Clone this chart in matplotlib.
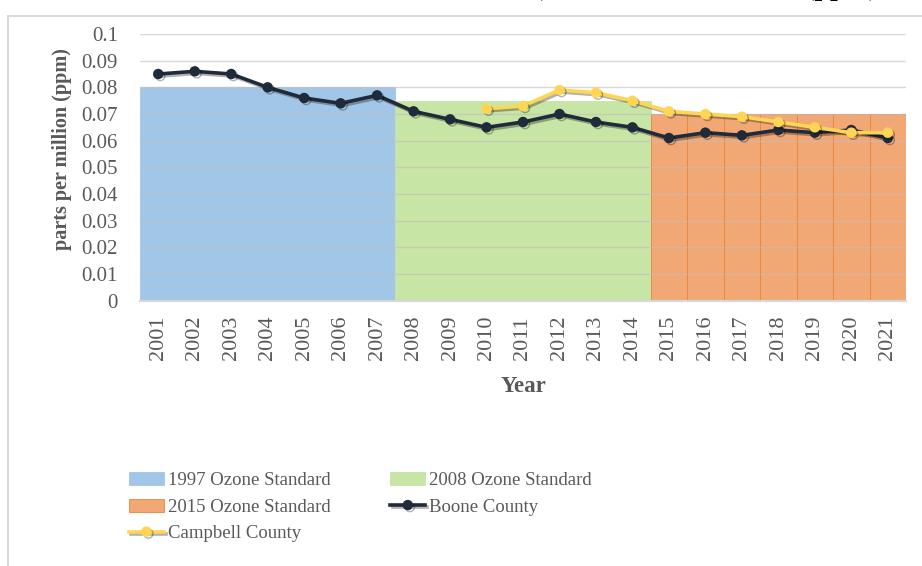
import matplotlib.pyplot as plt
import matplotlib.patheffects as pe
from matplotlib.lines import Line2D
import numpy as np

plt.rcParams['font.family'] = ['Liberation Serif', 'DejaVu Serif']

years = list(range(2001, 2022))
standards = [
    ('1997 Ozone Standard', 2001, 2007, 0.080, '#A2C6E8'),
    ('2008 Ozone Standard', 2008, 2014, 0.075, '#C7E5A4'),
    ('2015 Ozone Standard', 2015, 2021, 0.070, '#F2A874'),
]
boone = [0.085, 0.086, 0.085, 0.080, 0.076, 0.074, 0.077, 0.071, 0.068, 0.065,
         0.067, 0.070, 0.067, 0.065, 0.061, 0.063, 0.062, 0.064, 0.063, 0.064, 0.061]
campbell_years = list(range(2010, 2022))
campbell = [0.072, 0.073, 0.079, 0.078, 0.075, 0.071, 0.070, 0.069, 0.067,
            0.065, 0.063, 0.063]

gray = '#595959'
W, H = 922, 566
fig = plt.figure(figsize=(W / 100, H / 100), dpi=100)
ax = fig.add_axes([140 / W, 1 - 300.7 / H, 766 / W, (300.7 - 34) / H])

handles = {}
for label, y0, y1, val, col in standards:
    xs = np.arange(y0, y1 + 1)
    edge = '#E8843C' if y0 == 2015 else col
    bars = ax.bar(xs, [val] * len(xs), width=1.0, color=col, edgecolor=edge,
                  linewidth=0.6, zorder=1, label=label)
    handles[label] = bars

shadow = [pe.SimpleLineShadow(offset=(1.5, -1.5), alpha=0.3), pe.Normal()]
lb, = ax.plot(years, boone, color='#1F2A3B', lw=2.6, marker='o', ms=6.5,
              zorder=4, path_effects=shadow, label='Boone County')
lc, = ax.plot(campbell_years, campbell, color='#FFD654', lw=2.6, marker='o', ms=6.5,
              zorder=5, path_effects=shadow, label='Campbell County')

ax.set_xlim(2000.5, 2021.5)
ax.set_ylim(0, 0.1)
ax.set_yticks(np.arange(0, 0.1001, 0.01))
ax.set_yticklabels(['0'] + [f'{v:.2f}'.rstrip('0') for v in np.arange(0.01, 0.1001, 0.01)])
ax.set_xticks(years)
ax.set_xticklabels([str(y) for y in years], rotation=90)
ax.tick_params(axis='y', length=0, pad=16, labelsize=15, labelcolor=gray)
ax.tick_params(axis='x', length=0, pad=11, labelsize=16, labelcolor=gray)
ax.grid(axis='y', color='#BFBFBF', lw=1.0, alpha=0.6, zorder=2)
ax.set_axisbelow(False)
for s in ['left', 'right', 'top']:
    ax.spines[s].set_visible(False)
ax.spines['bottom'].set_color('#D9D9D9')
ax.spines['bottom'].set_linewidth(1.6)

fig.text(523 / W, 1 - 387 / H, 'Year', ha='center', va='center',
         fontsize=16.5, fontweight='bold', color=gray)
fig.text(62 / W, 1 - 149 / H, 'parts per million (ppm)', ha='center', va='center',
         rotation=90, fontsize=14.5, fontweight='bold', color=gray)

# title sits mostly above the visible area, only its lowest strokes show
fig.text(878 / W, 1 + 5 / H,
         'Ozone Concentrations (Boone and Kenton Area Monitor Stations 2001 to 2021), '
         'in Parts Per Million (ppm)',
         ha='right', va='baseline', fontsize=20, fontweight='bold', color='black')

# chart frame
fig.add_artist(Line2D([8 / W, 8 / W], [0, 1 - 16 / H], color='#D9D9D9', lw=1.5))
fig.add_artist(Line2D([8 / W, 1], [1 - 16 / H, 1 - 16 / H], color='#D9D9D9', lw=1.5))

order = ['1997 Ozone Standard', '2015 Ozone Standard', 'Campbell County',
         '2008 Ozone Standard', 'Boone County']
hmap = dict(handles)
hmap['Boone County'] = lb
hmap['Campbell County'] = lc
leg = fig.legend([hmap[k] for k in order], order, loc='upper left',
                 bbox_to_anchor=(129 / W, 1 - 472 / H), ncol=2, frameon=False,
                 fontsize=13.5, handlelength=1.85, handletextpad=0.22,
                 columnspacing=3.2, labelspacing=0.5, borderpad=0,
                 borderaxespad=0)
for t in leg.get_texts():
    t.set_color(gray)

fig.savefig('out.png', dpi=100)
